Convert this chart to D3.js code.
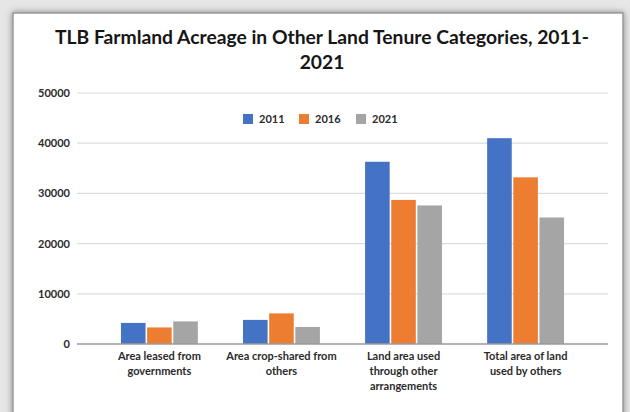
<!DOCTYPE html>
<html>
<head>
<meta charset="utf-8">
<script src="https://cdn.jsdelivr.net/npm/d3@7"></script>
<style>
  html, body { margin: 0; padding: 0; background: #e6e6e6; }
  svg { display: block; }
</style>
</head>
<body>
<svg id="chart" width="630" height="412"></svg>
<script>
// Chart data
const categories = [
  ["Area leased from", "governments"],
  ["Area crop-shared from", "others"],
  ["Land area used", "through other", "arrangements"],
  ["Total area of land", "used by others"]
];
const years = ["2011", "2016", "2021"];
const values2011 = [4200, 4800, 36300, 41000];
const values2016 = [3300, 6100, 28700, 33200];
const values2021 = [4500, 3400, 27600, 25200];
const yTicks = [0, 10000, 20000, 30000, 40000, 50000];
const titleLines = ["TLB Farmland Acreage in Other Land Tenure Categories, 2011-", "2021"];

const colors = ["#4472C4", "#ED7D31", "#A5A5A5"];
const seriesValues = [values2011, values2016, values2021];
const FONT = "Lato, 'Open Sans', sans-serif";

const svg = d3.select("#chart");

// Panel with soft drop shadow
const defs = svg.append("defs");
const f = defs.append("filter").attr("id", "shadow")
  .attr("x", "-5%").attr("y", "-5%").attr("width", "110%").attr("height", "110%");
f.append("feDropShadow").attr("dx", 0).attr("dy", 0).attr("stdDeviation", 3)
  .attr("flood-color", "#555").attr("flood-opacity", 0.7);

svg.append("rect")
  .attr("x", 13).attr("y", 13).attr("width", 610).attr("height", 420)
  .attr("fill", "#ffffff").attr("stroke", "#9a9a9a").attr("stroke-width", 1.5)
  .attr("filter", "url(#shadow)");

// Scales
const y = d3.scaleLinear().domain([0, 50000]).range([344, 93]);
const x = d3.scaleBand().domain(d3.range(categories.length))
  .range([77, 608]).paddingInner(0.37).paddingOuter(0.36);
const xs = d3.scaleBand().domain(years).range([0, x.bandwidth()]).paddingInner(0.06);

// Gridlines
svg.append("g").selectAll("line").data(yTicks.filter(d => d > 0)).join("line")
  .attr("x1", 77).attr("x2", 608)
  .attr("y1", d => y(d)).attr("y2", d => y(d))
  .attr("stroke", "#dcdcdc").attr("stroke-width", 1.2);

// Y axis labels
const yAxis = svg.append("g").attr("transform", "translate(72,0)")
  .call(d3.axisLeft(y).tickValues(yTicks).tickSize(0).tickPadding(2).tickFormat(d3.format("d")));
yAxis.select(".domain").remove();
yAxis.selectAll("text")
  .attr("font-family", FONT).attr("font-weight", 700).attr("font-size", 11)
  .attr("fill", "#2b2b2b");

// Bars
const groups = svg.append("g").selectAll("g").data(categories.map((c, i) => i)).join("g")
  .attr("transform", i => `translate(${x(i)},0)`);
groups.selectAll("rect")
  .data(i => years.map((yr, s) => ({ yr, s, v: seriesValues[s][i] })))
  .join("rect")
  .attr("x", d => xs(d.yr))
  .attr("width", xs.bandwidth())
  .attr("y", d => y(d.v))
  .attr("height", d => y(0) - y(d.v))
  .attr("fill", d => colors[d.s]);

// Baseline
svg.append("line")
  .attr("x1", 77).attr("x2", 608).attr("y1", y(0)).attr("y2", y(0))
  .attr("stroke", "#9a9a9a").attr("stroke-width", 1.3);

// Category labels
const catLabels = svg.append("g").selectAll("text").data(categories).join("text")
  .attr("x", (d, i) => x(i) + x.bandwidth() / 2)
  .attr("y", 360)
  .attr("text-anchor", "middle")
  .attr("font-family", FONT).attr("font-weight", 700).attr("font-size", 11)
  .attr("fill", "#2b2b2b");
catLabels.selectAll("tspan").data(d => d).join("tspan")
  .attr("x", function () { return this.parentNode.getAttribute("x"); })
  .attr("dy", (d, j) => j === 0 ? 0 : 15)
  .text(d => d);

// Title
svg.append("g").selectAll("text").data(titleLines).join("text")
  .attr("x", 322)
  .attr("y", (d, i) => 44 + i * 25)
  .attr("text-anchor", "middle")
  .attr("font-family", FONT).attr("font-weight", 700).attr("font-size", 19.3)
  .attr("fill", "#161616")
  .text(d => d);

// Legend
const legendX = [243, 299, 356];
const legend = svg.append("g").selectAll("g").data(years).join("g")
  .attr("transform", (d, i) => `translate(${legendX[i]},114)`);
legend.append("rect").attr("width", 10).attr("height", 10)
  .attr("fill", (d, i) => colors[i]);
legend.append("text").attr("x", 16).attr("y", 9)
  .attr("font-family", FONT).attr("font-weight", 700).attr("font-size", 11)
  .attr("fill", "#2b2b2b").text(d => d);
</script>
</body>
</html>
